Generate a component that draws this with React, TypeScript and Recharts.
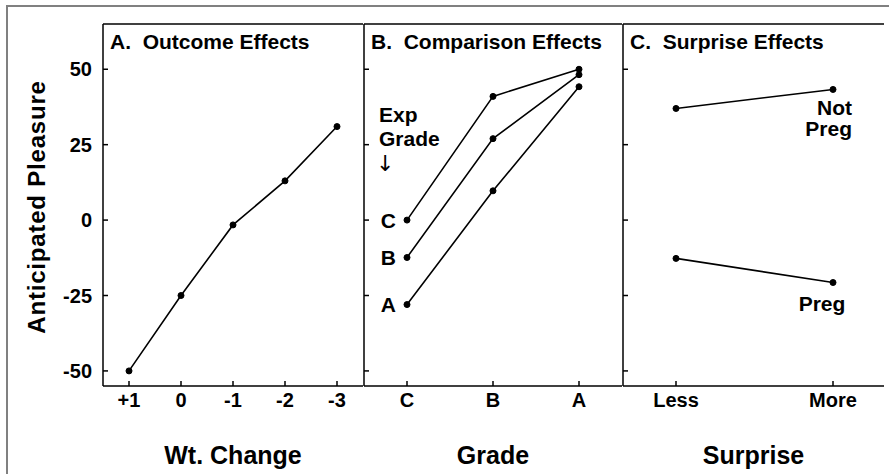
import React from 'react';
import { LineChart, Line, XAxis, YAxis, LabelList } from 'recharts';

const W = 889;
const H = 474;
const FONT = '"Liberation Sans", Arial, Helvetica, sans-serif';

// y scale shared by all three panels
const yTicks = [-50, -25, 0, 25, 50];
const yDomain = [-55, 65];

// A. Outcome effects
const wtChange = ['+1', '0', '-1', '-2', '-3'];
const outcomePleasure = [-50, -25, -1.6, 13, 31];

// B. Comparison effects (one line per expected grade)
const grades = ['C', 'B', 'A'];
const expCPleasure = [0, 41, 50];
const expBPleasure = [-12.4, 27, 48.2];
const expAPleasure = [-28, 9.7, 44.2];

// C. Surprise effects
const surprise = ['Less', 'More'];
const notPregPleasure = [37, 43.3];
const pregPleasure = [-12.7, -20.7];

const outcomeData = wtChange.map((name, i) => ({ name, v: outcomePleasure[i] }));
const comparisonData = grades.map((name, i) => ({
  name,
  expC: expCPleasure[i],
  expB: expBPleasure[i],
  expA: expAPleasure[i],
}));
const surpriseData = surprise.map((name, i) => ({
  name,
  notPreg: notPregPleasure[i],
  preg: pregPleasure[i],
}));

const bold = { fill: '#000', fontFamily: FONT, fontWeight: 700 };
const axisLine = { stroke: '#000', strokeWidth: 1.5 };
const dot = { r: 3, fill: '#000', stroke: '#000', strokeWidth: 1 };
const TICK = 5; // inward tick length
const Y_GAP = 11;
const X_GAP = 7;

// left axis tick: inward mark plus optional value
const leftTick = (showText: boolean) => (p: any) => (
  <g>
    <line x1={p.x + Y_GAP} x2={p.x + Y_GAP + TICK} y1={p.y} y2={p.y} {...axisLine} />
    {showText && (
      <text x={p.x} y={p.y} dy="0.355em" textAnchor="end" style={{ ...bold, fontSize: 20 }}>
        {p.payload.value}
      </text>
    )}
  </g>
);

const rightTick = (p: any) => (
  <line x1={p.x - TICK} x2={p.x} y1={p.y} y2={p.y} {...axisLine} />
);

const bottomTick = (p: any) => (
  <g>
    <line x1={p.x} x2={p.x} y1={p.y - X_GAP} y2={p.y - X_GAP - TICK} {...axisLine} />
    <text x={p.x} y={p.y} dy="0.71em" textAnchor="middle" style={{ ...bold, fontSize: 20 }}>
      {p.payload.value}
    </text>
  </g>
);

const titleContent = (title: string) => (p: any) => (
  <text x={p.viewBox.x + 7} y={p.viewBox.y + 49} style={{ ...bold, fontSize: 21, whiteSpace: 'pre' }}>
    {title}
  </text>
);

const yTitleContent = (p: any) => {
  const cx = p.viewBox.x + 45;
  const cy = p.viewBox.y + p.viewBox.height / 2 + 2;
  return (
    <text
      x={cx}
      y={cy}
      transform={`rotate(-90 ${cx} ${cy})`}
      textAnchor="middle"
      style={{ ...bold, fontSize: 24, letterSpacing: 0.8 }}
    >
      Anticipated Pleasure
    </text>
  );
};

// grade label left of the first point of each line in panel B
const startLabel = (text: string, withNote = false) => (p: any) => {
  if (p.index !== 0) return null;
  const nx = p.x - 28;
  return (
    <g>
      <text x={p.x - 11} y={p.y} dy="0.36em" textAnchor="end" style={{ ...bold, fontSize: 21 }}>
        {text}
      </text>
      {withNote && (
        <text x={nx} y={p.y - 98} style={{ ...bold, fontSize: 21 }}>
          <tspan x={nx}>Exp</tspan>
          <tspan x={nx} dy={24}>Grade</tspan>
        </text>
      )}
      {withNote && (
        <text
          x={nx - 3}
          y={p.y - 49}
          style={{ fill: '#000', fontFamily: '"DejaVu Sans", sans-serif', fontSize: 22 }}
        >
          ↓
        </text>
      )}
    </g>
  );
};

const notPregLabel = (p: any) =>
  p.index === 1 ? (
    <text x={p.x + 19} y={p.y + 26} textAnchor="end" style={{ ...bold, fontSize: 21 }}>
      <tspan x={p.x + 19}>Not</tspan>
      <tspan x={p.x + 19} dy={21}>Preg</tspan>
    </text>
  ) : null;

const pregLabel = (p: any) =>
  p.index === 1 ? (
    <text x={p.x - 11} y={p.y + 28.5} textAnchor="middle" style={{ ...bold, fontSize: 21 }}>
      Preg
    </text>
  ) : null;

interface PanelProps {
  data: any[];
  plotLeft: number;
  plotRight: number;
  padding: { left: number; right: number };
  title: string;
  xTitle: string;
  showY?: boolean;
  children: React.ReactNode;
}

const Panel: React.FC<PanelProps> = ({ data, plotLeft, plotRight, padding, title, xTitle, showY, children }) => (
  <div style={{ position: 'absolute', left: 0, top: 0 }}>
    <LineChart width={W} height={H} data={data} margin={{ top: 0, right: W - plotRight, bottom: 0, left: 0 }}>
      <XAxis
        dataKey="name"
        type="category"
        interval={0}
        height={88}
        padding={padding}
        axisLine={axisLine}
        tickLine={false}
        tickSize={0}
        tickMargin={X_GAP}
        tick={bottomTick}
        label={{ value: xTitle, position: 'insideBottom', offset: 10, ...bold, fontSize: 25 }}
      />
      <XAxis
        xAxisId="top"
        orientation="top"
        dataKey="name"
        type="category"
        height={24}
        padding={padding}
        axisLine={axisLine}
        tickLine={false}
        tick={false}
        label={{ content: titleContent(title) }}
      />
      <YAxis
        type="number"
        width={plotLeft}
        domain={yDomain}
        ticks={yTicks}
        allowDataOverflow
        axisLine={axisLine}
        tickLine={false}
        tickSize={0}
        tickMargin={Y_GAP}
        tick={leftTick(!!showY)}
        label={showY ? { content: yTitleContent } : undefined}
      />
      <YAxis
        yAxisId="right"
        orientation="right"
        type="number"
        width={0}
        domain={yDomain}
        ticks={yTicks}
        allowDataOverflow
        axisLine={axisLine}
        tickLine={false}
        tickSize={0}
        tickMargin={0}
        tick={rightTick}
      />
      {children}
    </LineChart>
  </div>
);

export default function App() {
  return (
    <div style={{ position: 'absolute', left: 0, top: 0, width: W, height: H, background: '#fff', overflow: 'hidden' }}>
      <div
        style={{
          position: 'absolute',
          left: 6,
          top: 5,
          width: W,
          height: H,
          borderLeft: '2px solid #808080',
          borderTop: '2px solid #808080',
        }}
      />
      <Panel
        data={outcomeData}
        plotLeft={103}
        plotRight={363}
        padding={{ left: 26, right: 26 }}
        title="A.  Outcome Effects"
        xTitle="Wt. Change"
        showY
      >
        <Line dataKey="v" stroke="#000" strokeWidth={1.6} dot={dot} isAnimationActive={false} />
      </Panel>
      <Panel
        data={comparisonData}
        plotLeft={364}
        plotRight={622}
        padding={{ left: 43, right: 43 }}
        title="B.  Comparison Effects"
        xTitle="Grade"
      >
        <Line dataKey="expC" stroke="#000" strokeWidth={1.6} dot={dot} isAnimationActive={false}>
          <LabelList dataKey="expC" content={startLabel('C', true)} />
        </Line>
        <Line dataKey="expB" stroke="#000" strokeWidth={1.6} dot={dot} isAnimationActive={false}>
          <LabelList dataKey="expB" content={startLabel('B')} />
        </Line>
        <Line dataKey="expA" stroke="#000" strokeWidth={1.6} dot={dot} isAnimationActive={false}>
          <LabelList dataKey="expA" content={startLabel('A')} />
        </Line>
      </Panel>
      <Panel
        data={surpriseData}
        plotLeft={623}
        plotRight={884}
        padding={{ left: 53, right: 51 }}
        title="C.  Surprise Effects"
        xTitle="Surprise"
      >
        <Line dataKey="notPreg" stroke="#000" strokeWidth={1.6} dot={dot} isAnimationActive={false}>
          <LabelList dataKey="notPreg" content={notPregLabel} />
        </Line>
        <Line dataKey="preg" stroke="#000" strokeWidth={1.6} dot={dot} isAnimationActive={false}>
          <LabelList dataKey="preg" content={pregLabel} />
        </Line>
      </Panel>
    </div>
  );
}
